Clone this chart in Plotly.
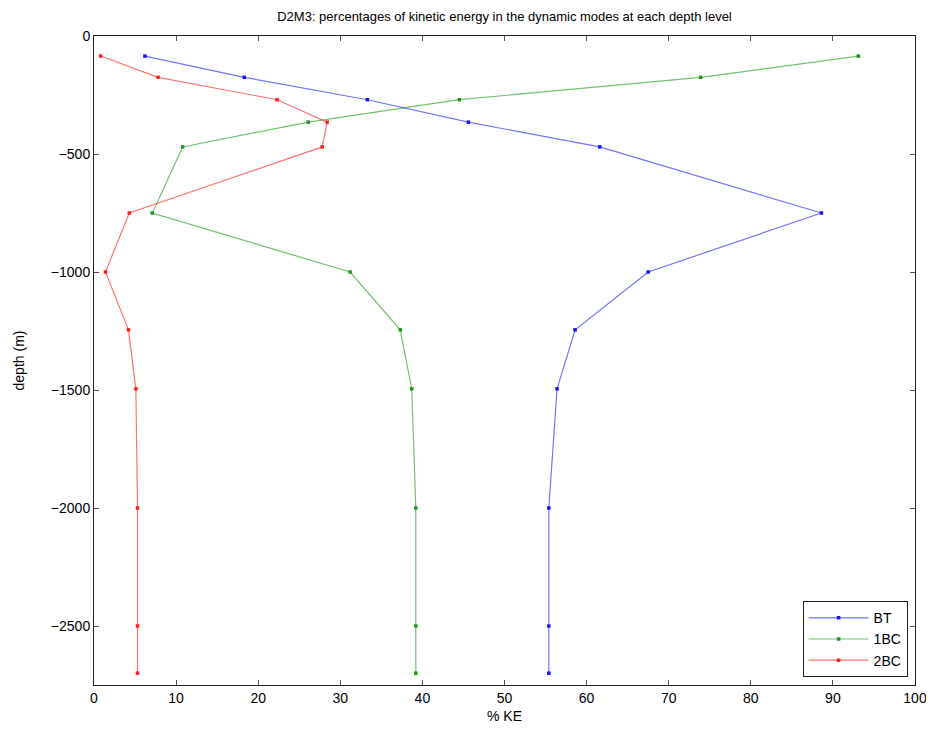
import plotly.graph_objects as go

depth = [-85, -175, -270, -365, -470, -750, -1000, -1245, -1495, -2000, -2500, -2700]
bt = [6.2, 18.3, 33.3, 45.6, 61.6, 88.6, 67.5, 58.6, 56.4, 55.4, 55.4, 55.4]
bc1 = [93.1, 73.9, 44.5, 26.1, 10.8, 7.1, 31.2, 37.3, 38.7, 39.2, 39.2, 39.2]
bc2 = [0.8, 7.8, 22.3, 28.4, 27.8, 4.3, 1.4, 4.2, 5.1, 5.3, 5.3, 5.3]
names = ["BT", "1BC", "2BC"]
line_colors = ["rgba(0,0,255,0.55)", "rgba(0,140,0,0.55)", "rgba(255,0,0,0.55)"]
marker_colors = ["rgb(20,20,255)", "rgb(30,150,30)", "rgb(255,30,30)"]
x_ticks = list(range(0, 101, 10))
y_ticks = [0, -500, -1000, -1500, -2000, -2500]

fig = go.Figure()
for vals, nm, lc, mc in zip([bt, bc1, bc2], names, line_colors, marker_colors):
    fig.add_trace(go.Scatter(
        x=vals, y=depth, name=nm, mode="lines+markers",
        line=dict(color=lc, width=1.2),
        marker=dict(color=mc, size=3.5, symbol="square"),
    ))

font = "Liberation Sans, Arial, Helvetica, sans-serif"
W, H = 926, 720
L, R, T, B = 86, 19, 28, 43
fig.update_layout(
    width=W, height=H,
    margin=dict(l=L, r=R, t=T, b=B, autoexpand=False),
    paper_bgcolor="white", plot_bgcolor="white",
    font=dict(family=font, size=14, color="black"),
    title=dict(text="D2M3: percentages of kinetic energy in the dynamic modes at each depth level",
               x=(L + (W - L - R) / 2) / W, xanchor="center", y=1 - 8 / H, yanchor="middle",
               font=dict(size=13, family=font)),
    showlegend=True,
    legend=dict(x=0.991, xanchor="right", y=0.012, yanchor="bottom",
                bordercolor="#222", borderwidth=1, bgcolor="white",
                font=dict(size=14), tracegroupgap=0, itemwidth=60),
)
fig.update_xaxes(range=[0, 100], tickvals=x_ticks, ticks="inside", ticklen=5,
                 tickcolor="#555", showline=True, linecolor="#222", linewidth=1,
                 mirror="ticks", showgrid=False, zeroline=False, automargin=False,
                 ticklabeloverflow="allow",
                 title=dict(text="% KE", standoff=6, font=dict(size=14)))
fig.update_yaxes(range=[-2750, 0], tickvals=y_ticks, ticks="inside", ticklen=5,
                 tickcolor="#555", showline=True, linecolor="#222", linewidth=1,
                 mirror="ticks", showgrid=False, zeroline=False, automargin=False,
                 ticklabeloverflow="allow",
                 title=dict(text="depth (m)", standoff=22, font=dict(size=14)))

fig.write_html("out.html")
